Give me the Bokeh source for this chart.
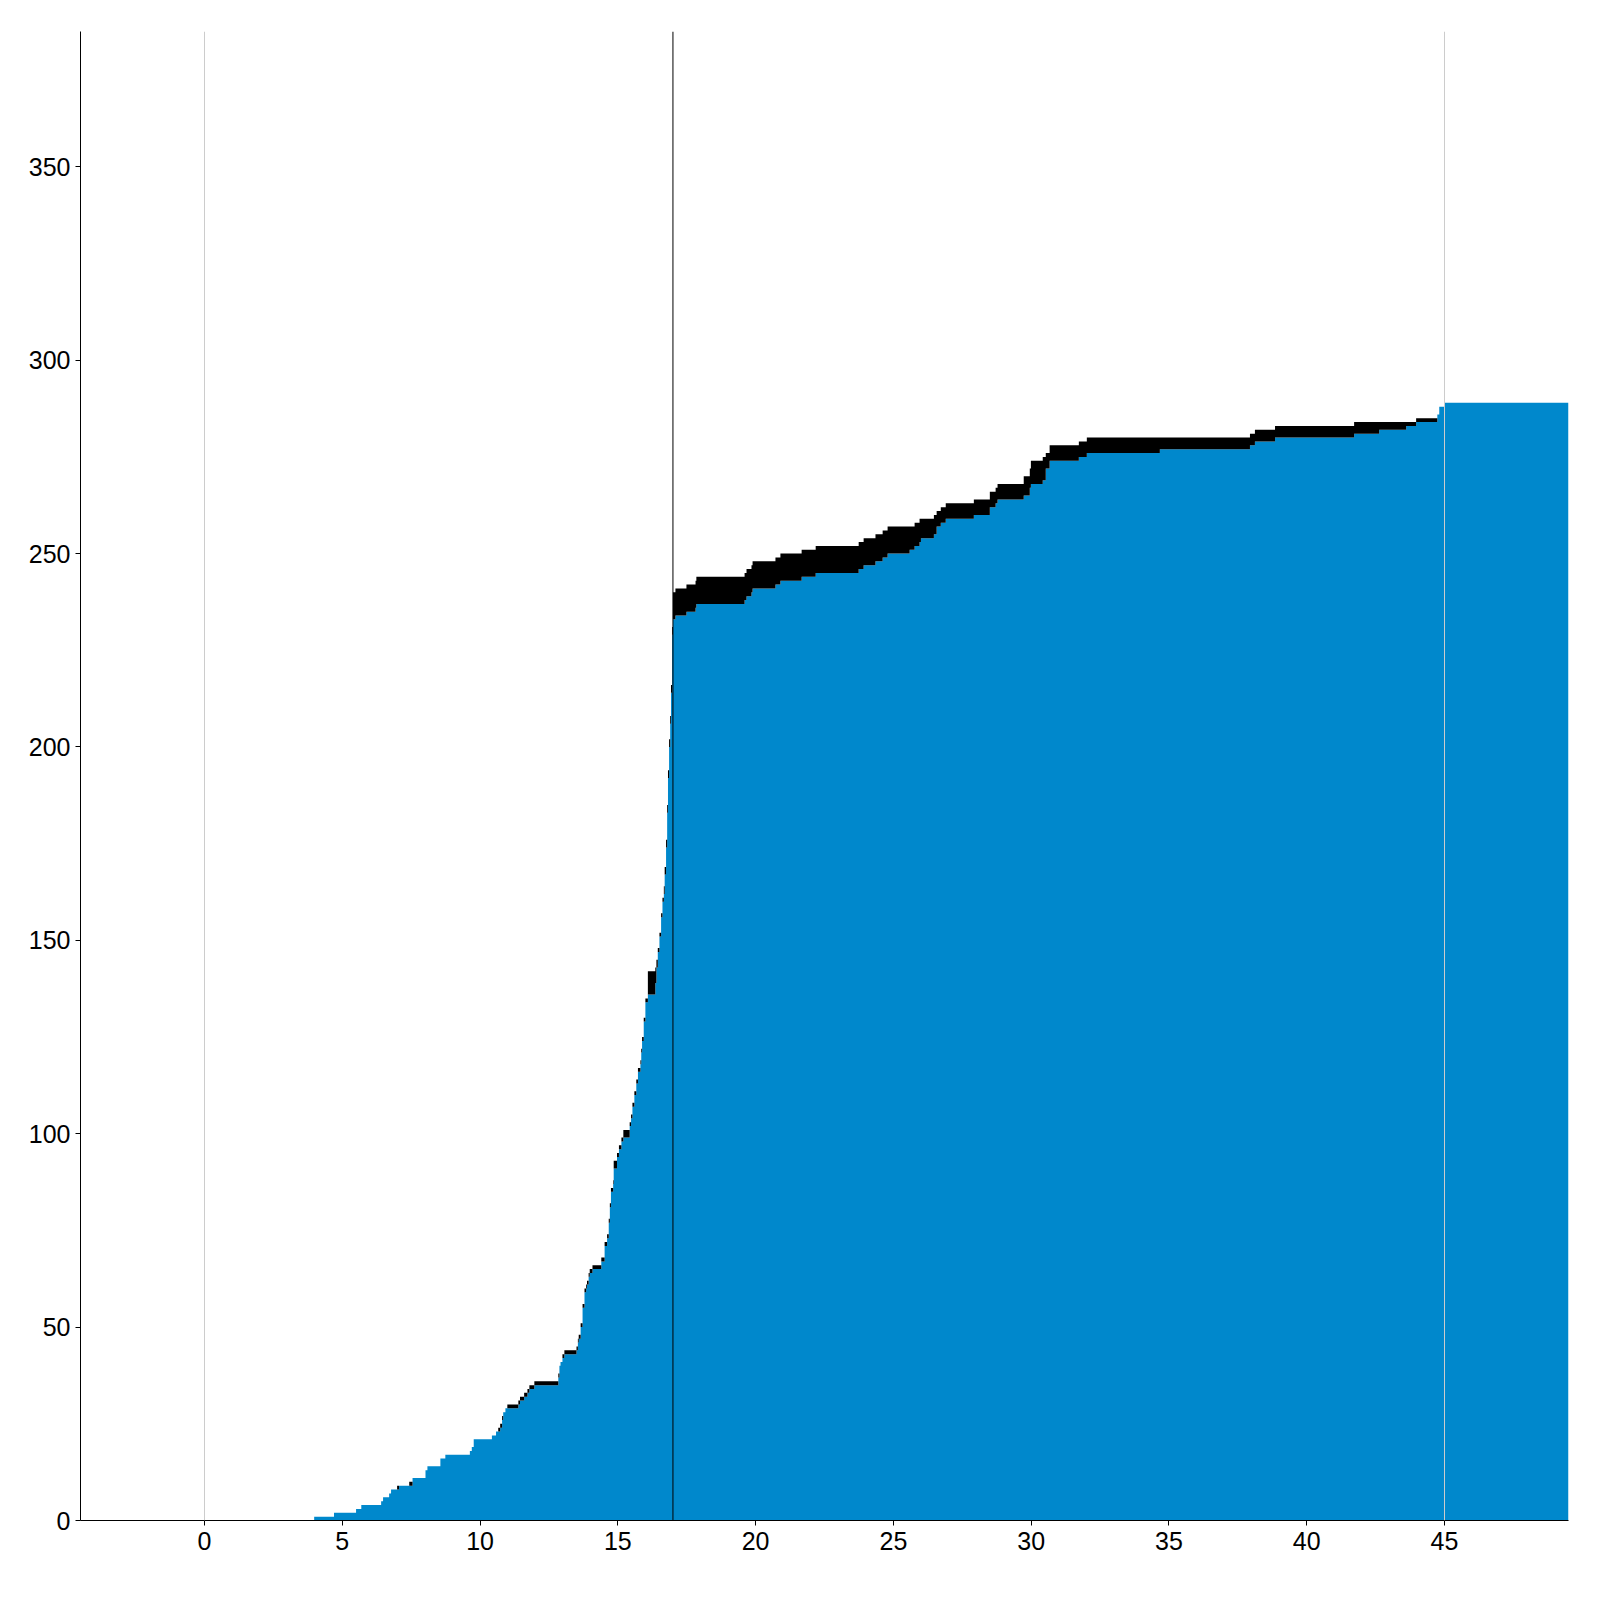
import numpy as np
from bokeh.plotting import figure
from bokeh.models import Span, Range1d, FixedTicker, ColumnDataSource
from bokeh.embed import file_html
from bokeh.resources import INLINE

# step start positions (x), blue series (cumulative) and black series (stacked on top)
x_steps = [
    3.98, 4.70, 5.50, 5.69, 6.41, 6.48, 6.70, 6.77, 6.99, 7.06,
    7.43, 7.55, 8.02, 8.09, 8.56, 8.74, 9.63, 9.70, 9.77, 10.43,
    10.58, 10.66, 10.73, 10.80, 10.84, 10.92, 10.99, 11.39, 11.45, 11.60,
    11.72, 11.79, 11.97, 12.84, 12.88, 12.92, 12.99, 13.06, 13.50, 13.55,
    13.58, 13.65, 13.72, 13.79, 13.85, 13.88, 13.94, 13.98, 14.08, 14.40,
    14.52, 14.61, 14.67, 14.71, 14.75, 14.83, 14.85, 14.97, 15.04, 15.13,
    15.20, 15.43, 15.48, 15.53, 15.60, 15.67, 15.73, 15.82, 15.85, 15.88,
    15.94, 16.00, 16.09, 16.36, 16.40, 16.45, 16.51, 16.57, 16.62, 16.67,
    16.70, 16.75, 16.79, 16.82, 16.86, 16.90, 16.93, 16.97, 17.00, 17.09,
    17.49, 17.82, 17.85, 19.60, 19.67, 19.85, 19.89, 20.72, 20.90, 21.67,
    22.18, 23.74, 23.92, 24.35, 24.61, 24.79, 25.59, 25.77, 25.95, 26.00,
    26.47, 26.57, 26.72, 26.90, 27.92, 28.50, 28.71, 28.78, 29.73, 29.95,
    29.99, 30.42, 30.53, 30.67, 31.73, 32.02, 34.67, 37.94, 38.12, 38.85,
    41.72, 42.63, 43.61, 43.97, 44.74, 44.81, 45.00, 49.50,
]
blue_values = [
    1, 2, 3, 4, 5, 6, 7, 8, 8, 9,
    9, 11, 13, 14, 16, 17, 18, 19, 21, 22,
    23, 23, 24, 26, 28, 29, 29, 30, 31, 32,
    33, 34, 35, 37, 40, 41, 42, 43, 44, 46,
    47, 50, 55, 59, 60, 61, 63, 64, 65, 67,
    71, 73, 77, 81, 85, 87, 91, 94, 96, 98,
    99, 102, 104, 107, 110, 113, 116, 118, 121, 124,
    129, 134, 136, 139, 143, 147, 151, 156, 160, 162,
    167, 174, 183, 192, 200, 206, 214, 229, 233, 234,
    235, 236, 237, 238, 239, 240, 241, 242, 243, 244,
    245, 246, 247, 248, 249, 250, 251, 252, 253, 254,
    255, 257, 258, 259, 260, 262, 263, 264, 265, 267,
    268, 269, 272, 274, 275, 276, 277, 278, 279, 280,
    281, 282, 283, 284, 286, 288, 289, 289,
]
black_values = [
    0, 0, 0, 0, 0, 0, 0, 0, 1, 0,
    1, 0, 0, 0, 0, 0, 0, 0, 0, 0,
    0, 1, 1, 1, 0, 0, 1, 1, 1, 1,
    1, 1, 1, 1, 0, 0, 1, 1, 1, 1,
    1, 1, 1, 1, 1, 1, 1, 1, 1, 1,
    1, 1, 1, 1, 1, 1, 2, 1, 1, 1,
    2, 1, 1, 1, 1, 1, 1, 1, 1, 1,
    1, 1, 6, 4, 2, 1, 1, 1, 1, 2,
    2, 2, 2, 2, 2, 2, 2, 2, 7, 7,
    7, 7, 7, 7, 7, 7, 7, 7, 7, 7,
    7, 7, 7, 7, 7, 7, 6, 6, 6, 5,
    5, 4, 4, 4, 4, 4, 4, 4, 5, 5,
    6, 6, 4, 4, 4, 4, 3, 3, 3, 3,
    3, 2, 1, 1, 0, 0, 0, 0,
]
x_ticks = [0, 5, 10, 15, 20, 25, 30, 35, 40, 45]
y_ticks = [0, 50, 100, 150, 200, 250, 300, 350]
marker_lines = [0, 17, 45]
marker_colors = ["#cccccc", "#000000", "#cccccc"]

BLUE = "#0088cc"

blue_arr = np.array(blue_values, dtype=float)
top_arr = blue_arr + np.array(black_values, dtype=float)
src = ColumnDataSource(dict(x=x_steps, base=np.zeros(len(x_steps)), blue=blue_arr, top=top_arr))

p = figure(width=1592, height=1576,
           x_range=Range1d(-4.5, 49.5), y_range=Range1d(0, 385),
           output_backend="svg", toolbar_location=None,
           min_border_left=80, min_border_right=24, min_border_top=31, min_border_bottom=56)

p.varea_step(x="x", y1="base", y2="blue", step_mode="after", source=src, fill_color=BLUE)
p.varea_step(x="x", y1="blue", y2="top", step_mode="after", source=src, fill_color="#000000")

for loc, col in zip(marker_lines, marker_colors):
    p.add_layout(Span(location=loc, dimension="height", line_color=col, line_width=1))

p.xgrid.visible = False
p.ygrid.visible = False
p.outline_line_color = None
p.background_fill_color = "white"
p.border_fill_color = "white"

p.xaxis.ticker = FixedTicker(ticks=x_ticks)
p.yaxis.ticker = FixedTicker(ticks=y_ticks)
for ax in (p.xaxis[0], p.yaxis[0]):
    ax.major_label_text_font = "Liberation Sans"
    ax.major_label_text_font_size = "25px"
    ax.major_label_text_color = "#000000"
    ax.axis_line_color = "#000000"
    ax.axis_line_width = 1
    ax.major_tick_line_color = "#000000"
    ax.major_tick_out = 5
    ax.major_tick_in = 0
    ax.minor_tick_line_color = None
p.xaxis[0].major_label_standoff = 6
p.yaxis[0].major_label_standoff = 5

open("out.html", "w").write(file_html(p, INLINE))
